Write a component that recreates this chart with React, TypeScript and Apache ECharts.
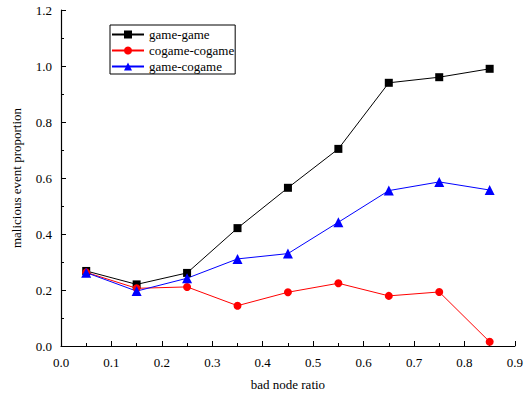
import React, { useEffect, useRef } from "react";
import * as echarts from "echarts";

const ratios = [0.05, 0.15, 0.25, 0.35, 0.45, 0.55, 0.65, 0.75, 0.85];
const gameGame = [0.268, 0.22, 0.261, 0.421, 0.565, 0.704, 0.94, 0.96, 0.99];
const cogameCogame = [0.263, 0.206, 0.211, 0.144, 0.192, 0.224, 0.179, 0.193, 0.015];
const gameCogame = [0.262, 0.196, 0.242, 0.311, 0.33, 0.442, 0.555, 0.586, 0.557];

const FONT = "'Liberation Serif', 'Times New Roman', serif";

const pairs = (ys: number[]) => ratios.map((x, i) => [x, ys[i]]);

export default function App() {
  const ref = useRef<HTMLDivElement>(null);

  useEffect(() => {
    if (!ref.current) return;
    const chart = echarts.init(ref.current, undefined, { renderer: "svg" });
    const axisCommon = {
      axisLine: { show: true, lineStyle: { color: "#000", width: 1.2 } },
      axisTick: { show: true, inside: true, length: 5, lineStyle: { color: "#000" } },
      minorTick: { show: true, splitNumber: 2, length: 3, lineStyle: { color: "#000" } },
      splitLine: { show: false },
      nameTextStyle: { color: "#000", fontFamily: FONT, fontSize: 13 },
    };
    const labelStyle = {
      color: "#000",
      fontFamily: FONT,
      fontSize: 13,
      formatter: (v: number) => v.toFixed(1),
    };
    chart.setOption({
      animation: false,
      backgroundColor: "#fff",
      textStyle: { fontFamily: FONT },
      grid: { left: 61, right: 9, top: 10, bottom: 52 },
      legend: {
        orient: "vertical",
        left: 110,
        top: 25,
        borderColor: "#000",
        borderWidth: 1,
        padding: [3, 1, 1, 1],
        itemGap: 3,
        itemWidth: 32,
        itemHeight: 10,
        textStyle: { color: "#000", fontFamily: FONT, fontSize: 13 },
        data: ["game-game", "cogame-cogame", "game-cogame"],
      },
      xAxis: {
        type: "value",
        min: 0,
        max: 0.9,
        interval: 0.1,
        name: "bad node ratio",
        nameLocation: "middle",
        nameGap: 32,
        axisLabel: { ...labelStyle, margin: 10 },
        ...axisCommon,
      },
      yAxis: {
        type: "value",
        min: 0,
        max: 1.2,
        interval: 0.2,
        name: "malicious event proportion",
        nameLocation: "middle",
        nameGap: 38,
        axisLabel: { ...labelStyle, margin: 9 },
        ...axisCommon,
      },
      series: [
        {
          name: "game-game",
          type: "line",
          data: pairs(gameGame),
          symbol: "rect",
          symbolSize: 8,
          color: "#000000",
          lineStyle: { width: 1, color: "#000000" },
          itemStyle: { color: "#000000" },
        },
        {
          name: "cogame-cogame",
          type: "line",
          data: pairs(cogameCogame),
          symbol: "circle",
          symbolSize: 8,
          color: "#ff0000",
          lineStyle: { width: 1, color: "#ff0000" },
          itemStyle: { color: "#ff0000" },
        },
        {
          name: "game-cogame",
          type: "line",
          data: pairs(gameCogame),
          symbol: "triangle",
          symbolSize: 10,
          color: "#0000ff",
          lineStyle: { width: 1, color: "#0000ff" },
          itemStyle: { color: "#0000ff" },
        },
      ],
    });
    return () => chart.dispose();
  }, []);

  return (
    <div
      ref={ref}
      style={{ position: "fixed", left: 0, top: 0, width: 526, height: 398, background: "#fff" }}
    />
  );
}
